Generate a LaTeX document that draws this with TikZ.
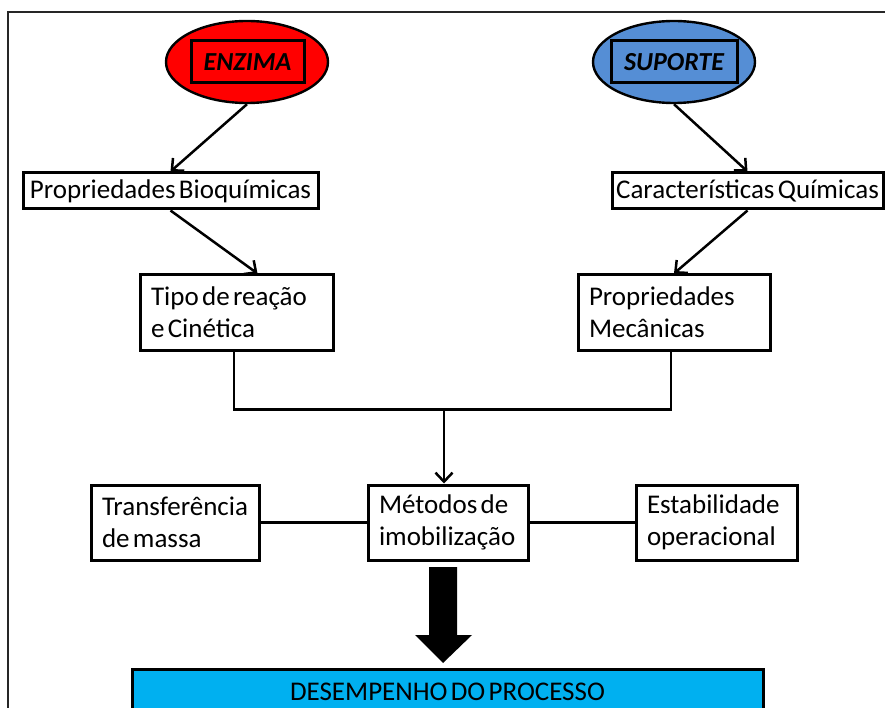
\documentclass[tikz,border=0pt]{standalone}
\usepackage{fontspec}
\setmainfont{Carlito}[WordSpace=0.55]
\usetikzlibrary{shapes.geometric,arrows.meta,calc}

\definecolor{enzred}{RGB}{255,0,0}
\definecolor{supblue}{RGB}{85,142,213}
\definecolor{procyan}{RGB}{0,176,240}

\tikzset{
  txt/.style={font=\fontsize{27}{32}\selectfont},
  onebox/.style={txt, draw=black, line width=3pt, fill=white, inner sep=0pt,
    minimum height=#1},
  twobox/.style={txt, draw=black, line width=3pt, fill=white, align=flush left,
    inner xsep=11pt, inner ysep=0pt, minimum height=75pt},
  source/.style={ellipse, draw=black, line width=2.4pt, inner sep=0pt,
    minimum width=162pt, minimum height=82pt},
  tag/.style={draw=black, line width=3pt, inner sep=0pt,
    font=\fontsize{26}{30}\selectfont\bfseries\itshape},
  arr/.style={line width=2.5pt, -{Straight Barb[length=9pt,width=17pt,line width=2.5pt]}},
  link/.style={line width=2.5pt},
}

\begin{document}
\begin{tikzpicture}[x=1pt,y=-1pt]
  \useasboundingbox (0,0) rectangle (885,708);

  % page frame
  \draw[line width=1.5pt, black!85] (8,708) -- (8,12) -- (885,12);

  % sources
  \node[source, fill=enzred]  (enz) at (247,62) {};
  \node[tag, minimum width=113pt, minimum height=42pt] (enzt) at (247.5,62) {ENZIMA};
  \node[source, fill=supblue] (sup) at (674,62) {};
  \node[tag, minimum width=126pt, minimum height=42pt] (supt) at (674,62) {SUPORTE};

  % first-level boxes
  \node[onebox=36pt, minimum width=295pt] (bio) at (170.5,191) {Propriedades Bioquímicas};
  \node[onebox=36pt, minimum width=271pt] (car) at (747.5,191) {Características Químicas};

  % second-level boxes
  \node[twobox, text width=171pt] (tipo) at (236.5,312.5) {Tipo de reação\\e Cinética};
  \node[twobox, text width=170pt] (mec)  at (674,312.5) {Propriedades\\Mecânicas};

  % middle row
  \node[twobox, text width=146pt] (trans) at (175,522.5) {Transferência\\de massa};
  \node[twobox, text width=138pt] (met)   at (448,522.5) {Métodos de\\imobilização};
  \node[twobox, text width=139pt] (est)   at (716.5,522.5) {Estabilidade\\operacional};

  % result box (runs past the lower edge)
  \node[txt, draw=black, line width=3pt, fill=procyan, minimum width=631pt,
        anchor=north, inner sep=0pt, text depth=19pt,
        text height=31pt] (des) at (447.5,668) {DESEMPENHO DO PROCESSO};

  % arrows from the sources
  \draw[arr] (enz.south) -- (bio.north);
  \draw[arr] (bio.south) -- ($(tipo.north)+(21,0)$);
  \draw[arr] (sup.south) -- (car.north);
  \draw[arr] (car.south) -- (mec.north);

  % merge of both branches
  \coordinate (jl) at ($(tipo.south)+(-2.5,58)$);
  \coordinate (jr) at ($(mec.south)+(-3,58)$);
  \coordinate (jm) at (444,408);
  \draw[link] (tipo.south -| jl) -- (jl) -- (jr) -- (mec.south -| jr);
  \draw[arr] (jm) -- (jm |- met.north);

  % side links
  \draw[link] (trans.east) -- (met.west);
  \draw[link] (met.east) -- (est.west);

  % thick arrow towards the result
  \coordinate (ta) at (443,567);
  \fill[black] ($(ta)+(-14,0)$) -- ($(ta)+(14,0)$) -- ($(ta)+(14,68)$)
    -- ($(ta)+(29,68)$) -- (443,663) -- ($(ta)+(-28,68)$)
    -- ($(ta)+(-14,68)$) -- cycle;
\end{tikzpicture}
\end{document}
